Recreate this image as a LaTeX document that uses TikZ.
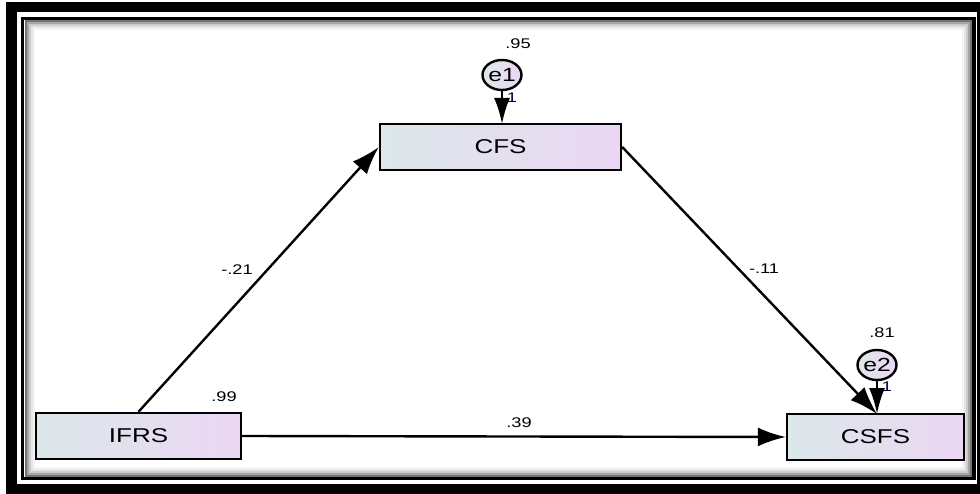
\documentclass[tikz,border=0pt]{standalone}
\usepackage{fontspec}
\setmainfont{Liberation Sans}
\newfontfamily\widefont[FakeStretch=1.3]{Liberation Sans}
\usetikzlibrary{arrows.meta,shapes.geometric}
\definecolor{boxL}{RGB}{220,232,234}
\definecolor{boxR}{RGB}{235,214,243}
\tikzset{
  var/.style={draw=black, line width=2.4pt, left color=boxL, right color=boxR,
    minimum height=46pt, inner sep=0pt, font=\widefont\fontsize{20}{20}\selectfont},
  err/.style={draw=black, line width=2.4pt, ellipse, left color=boxL, right color=boxR,
    minimum width=39pt, minimum height=30pt, inner sep=0pt, font=\widefont\fontsize{19}{19}\selectfont},
  path/.style={line width=2.4pt, -{Latex[length=28pt,width=19pt]}},
  epath/.style={line width=2.4pt, -{Latex[length=26pt,width=16pt]}},
  lab/.style={font=\widefont\fontsize{14}{14}\selectfont, inner sep=0pt},
  one/.style={font=\widefont\fontsize{14}{14}\selectfont, inner sep=0pt, text=black!75!blue}
}
\begin{document}
\begin{tikzpicture}[x=1pt,y=-1pt]
\useasboundingbox (0,0) rectangle (980,494);
% frame
\fill[black] (6,2) rectangle (990,499);
\fill[white] (17,12) rectangle (977,484);
\draw[black, line width=3.5pt] (22.5,18.5) rectangle (974,478.5);
\draw[black!55, line width=2pt] (25.5,21.5) rectangle (971,475.5);
\draw[black!35, line width=2pt] (27.5,23.5) rectangle (969,473.5);
\draw[black!20, line width=2pt] (29.5,25.5) rectangle (967,471.5);
\draw[black!10, line width=2pt] (31.5,27.5) rectangle (965,469.5);
\draw[black!4, line width=2pt] (33.5,29.5) rectangle (963,467.5);
\fill[white] (34.5,30.5) rectangle (962,466.5);
% nodes
\node[var, minimum width=205pt] (ifrs) at (138.5,436) {IFRS};
\node[var, minimum width=241pt] (cfs) at (500.5,147) {CFS};
\node[var, minimum width=177pt] (csfs) at (875.5,437) {CSFS};
\node[err] (e1) at (502,75) {e1};
\node[err] (e2) at (877,365) {e2};
\coordinate (cfstop) at (502,124);
\coordinate (csfstop) at (877,414);
% paths
\draw[path] (ifrs.north) -- (cfs.west);
\draw[path] (cfs.east) -- (csfstop);
\draw[path] (ifrs.east) -- (csfs.west);
\draw[epath] (e1) -- (cfstop);
\draw[epath] (e2) -- (csfstop);
% labels
\node[lab] (l1) at (237,270) {-.21};
\node[lab] (l2) at (764,269) {-.11};
\node[lab] (l3) at (519,423) {.39};
\node[lab] (l4) at (518,44) {.95};
\node[lab] (l5) at (882,333) {.81};
\node[lab] (l6) at (224,397) {.99};
\node[one] (o1) at (512,98) {1};
\node[one] (o2) at (887,387) {1};
\end{tikzpicture}
\end{document}
